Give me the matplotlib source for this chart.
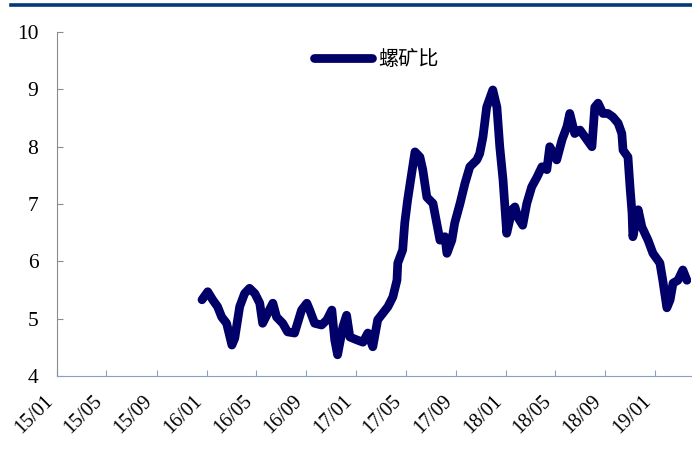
import matplotlib
matplotlib.use("Agg")
import matplotlib.pyplot as plt
import matplotlib.dates as mdates
from matplotlib.lines import Line2D
import numpy as np

# rebar / iron ore price ratio, sampled along the series
dates = [
    "2015-12-21", "2016-01-04", "2016-01-16", "2016-01-28", "2016-02-07",
    "2016-02-19", "2016-03-03", "2016-03-10", "2016-03-22", "2016-04-03",
    "2016-04-15", "2016-04-28", "2016-05-10", "2016-05-17", "2016-05-29",
    "2016-06-11", "2016-06-20", "2016-07-05", "2016-07-17", "2016-08-03",
    "2016-08-20", "2016-09-02", "2016-09-09", "2016-09-21", "2016-10-08",
    "2016-10-21", "2016-11-02", "2016-11-09", "2016-11-16", "2016-11-29",
    "2016-12-08", "2016-12-16", "2017-01-02", "2017-01-17", "2017-01-29",
    "2017-02-10", "2017-02-22", "2017-03-06", "2017-03-19", "2017-03-31",
    "2017-04-10", "2017-04-12", "2017-04-24", "2017-04-29", "2017-05-06",
    "2017-05-16", "2017-05-24", "2017-06-05", "2017-06-12", "2017-06-22",
    "2017-07-07", "2017-07-16", "2017-07-24", "2017-08-05", "2017-08-10",
    "2017-08-22", "2017-08-29", "2017-09-11", "2017-09-23", "2017-10-05",
    "2017-10-22", "2017-10-29", "2017-11-06", "2017-11-15", "2017-11-30",
    "2017-12-10", "2017-12-17", "2017-12-25", "2018-01-03", "2018-01-16",
    "2018-01-23", "2018-01-30", "2018-02-11", "2018-02-21", "2018-03-05",
    "2018-03-18", "2018-03-30", "2018-04-11", "2018-04-18", "2018-05-05",
    "2018-05-18", "2018-05-30", "2018-06-06", "2018-06-18", "2018-07-01",
    "2018-07-18", "2018-07-30", "2018-08-06", "2018-08-14", "2018-08-26",
    "2018-09-07", "2018-09-19", "2018-10-02", "2018-10-11", "2018-10-14",
    "2018-10-26", "2018-10-31", "2018-11-05", "2018-11-07", "2018-11-20",
    "2018-11-29", "2018-12-14", "2018-12-26", "2019-01-12", "2019-01-19",
    "2019-01-29", "2019-02-06", "2019-02-13", "2019-02-25", "2019-03-09",
    "2019-03-19",
]
ratio = [
    5.33, 5.47, 5.33, 5.21, 5.03,
    4.92, 4.54, 4.66, 5.21, 5.44,
    5.53, 5.44, 5.27, 4.92, 5.09,
    5.27, 5.03, 4.92, 4.77, 4.75,
    5.15, 5.27, 5.15, 4.92, 4.89,
    4.98, 5.15, 4.63, 4.37, 4.86,
    5.06, 4.68, 4.63, 4.59, 4.75,
    4.51, 4.98, 5.09, 5.21, 5.38,
    5.67, 5.97, 6.20, 6.67, 7.07,
    7.54, 7.91, 7.82, 7.60, 7.12,
    7.01, 6.67, 6.37, 6.43, 6.14,
    6.37, 6.67, 7.01, 7.36, 7.65,
    7.77, 7.88, 8.17, 8.69, 8.99,
    8.69, 8.00, 7.42, 6.49, 6.90,
    6.95, 6.77, 6.63, 7.01, 7.30,
    7.47, 7.65, 7.60, 8.00, 7.77,
    8.12, 8.35, 8.58, 8.23, 8.29,
    8.12, 8.00, 8.69, 8.76, 8.58,
    8.58, 8.52, 8.41, 8.23, 7.94,
    7.82, 7.30, 6.84, 6.43, 6.90,
    6.60, 6.37, 6.14, 5.97, 5.67,
    5.19, 5.33, 5.62, 5.67, 5.85,
    5.67,
]
series_name = "螺矿比"
xticks = ["2015-01-01", "2015-05-01", "2015-09-01", "2016-01-01", "2016-05-01",
          "2016-09-01", "2017-01-01", "2017-05-01", "2017-09-01", "2018-01-01",
          "2018-05-01", "2018-09-01", "2019-01-01"]
yticks = [4, 5, 6, 7, 8, 9, 10]

navy = "#000068"
serif = "Liberation Serif"

fig = plt.figure(figsize=(6.92, 4.58), dpi=100)
ax = fig.add_axes([0.0824, 0.179, 0.9162, 0.751])

x = np.array(dates, dtype="datetime64[D]")
ax.plot(x, ratio, color=navy, lw=6.3, solid_capstyle="round",
        solid_joinstyle="round", label=series_name)

ax.set_xlim(np.datetime64("2015-01-01"), np.datetime64("2019-03-29"))
ax.set_ylim(4, 10)
ax.set_yticks(yticks)
ax.set_xticks(np.array(xticks, dtype="datetime64[D]"))
ax.xaxis.set_major_formatter(mdates.DateFormatter("%y/%m"))

for side in ("top", "right"):
    ax.spines[side].set_visible(False)
ax.spines["left"].set_color("#8c8c8c")
ax.spines["bottom"].set_color("#8aa0c4")

ax.tick_params(axis="y", direction="in", length=4.5, color="#8c8c8c", pad=13.5,
               labelsize=15.5)
ax.tick_params(axis="x", direction="in", length=4.5, color="#8aa0c4", pad=11,
               labelsize=14.5)
for lab in ax.get_yticklabels():
    lab.set_fontfamily(serif)
for lab in ax.get_xticklabels():
    lab.set_fontfamily(serif)
    lab.set_rotation(45)
    lab.set_ha("right")
    lab.set_va("top")

leg = ax.legend(loc="center", bbox_to_anchor=(0.503, 0.919), frameon=False,
                handlelength=2.9, handletextpad=0.3,
                prop={"family": ["Noto Sans CJK SC", "DejaVu Sans"], "size": 14.5})

# dark rule across the top of the page
fig.add_artist(Line2D([0.016, 1.0], [0.9895, 0.9895], transform=fig.transFigure,
                      color="#003a78", lw=2.6))

fig.savefig("out.png", dpi=100)
